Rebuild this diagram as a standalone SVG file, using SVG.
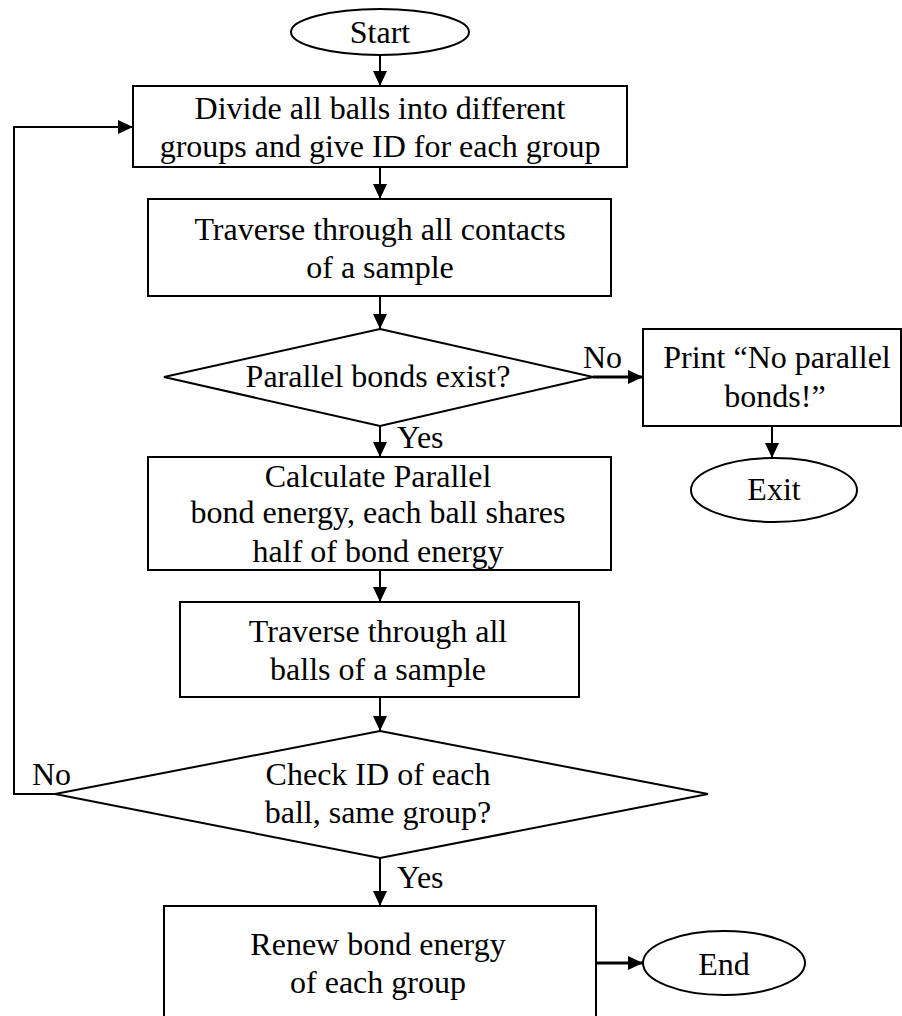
<svg xmlns="http://www.w3.org/2000/svg" width="902" height="1016" viewBox="0 0 902 1016">
  <style>
    .shape { fill: #ffffff; stroke: #000000; stroke-width: 2; }
    .label { font-family: "Liberation Serif", "Times New Roman", serif; font-size: 32px; fill: #000000; text-anchor: middle; }
    .tag { font-family: "Liberation Serif", "Times New Roman", serif; font-size: 32px; fill: #000000; }
    .link { fill: none; stroke: #000000; stroke-width: 2; }
    .link.bold { stroke-width: 3; }
  </style>
  <defs>
    <marker id="arrow" viewBox="0 0 15 14" markerWidth="15" markerHeight="14" refX="15" refY="7" orient="auto" markerUnits="userSpaceOnUse">
      <path d="M0,0 L15,7 L0,14 Z" fill="#000000"/>
    </marker>
  </defs>
  <rect width="902" height="1016" fill="#ffffff"/>

  <!-- connectors -->
  <g id="connectors">
    <line class="link" x1="380" y1="55" x2="380" y2="86" marker-end="url(#arrow)"/>
    <line class="link" x1="380" y1="167" x2="380" y2="199" marker-end="url(#arrow)"/>
    <line class="link" x1="380" y1="296" x2="380" y2="329" marker-end="url(#arrow)"/>
    <line class="link bold" x1="593" y1="377" x2="643" y2="377" marker-end="url(#arrow)"/>
    <line class="link" x1="772" y1="426" x2="772" y2="458" marker-end="url(#arrow)"/>
    <line class="link" x1="380" y1="426" x2="380" y2="457" marker-end="url(#arrow)"/>
    <line class="link" x1="380" y1="570" x2="380" y2="602" marker-end="url(#arrow)"/>
    <line class="link" x1="380" y1="697" x2="380" y2="731" marker-end="url(#arrow)"/>
    <polyline class="link" points="55,794 14,794 14,127 133,127" stroke-width="2.5" marker-end="url(#arrow)"/>
    <line class="link" x1="380" y1="858" x2="380" y2="906" marker-end="url(#arrow)"/>
    <line class="link bold" x1="596" y1="963" x2="643" y2="963" marker-end="url(#arrow)"/>
    <text class="tag" x="583" y="368">No</text>
    <text class="tag" x="397" y="448">Yes</text>
    <text class="tag" x="32" y="785">No</text>
    <text class="tag" x="397" y="888">Yes</text>
  </g>

  <g id="start">
    <ellipse class="shape" cx="380" cy="32" rx="89" ry="23"/>
    <text class="label" x="380" y="43">Start</text>
  </g>

  <g id="divide-groups">
    <rect class="shape" x="133" y="86" width="494" height="81"/>
    <text class="label" x="380" y="119">Divide all balls into different</text>
    <text class="label" x="380" y="157">groups and give ID for each group</text>
  </g>

  <g id="traverse-contacts">
    <rect class="shape" x="148" y="199" width="463" height="97"/>
    <text class="label" x="380" y="240">Traverse through all contacts</text>
    <text class="label" x="380" y="278">of a sample</text>
  </g>

  <g id="bonds-exist">
    <polygon class="shape" points="380,329 593,377 380,426 164,377"/>
    <text class="label" x="378" y="387">Parallel bonds exist?</text>
  </g>

  <g id="print-no-bonds">
    <rect class="shape" x="643" y="329" width="258" height="97"/>
    <text class="label" x="777" y="368">Print “No parallel</text>
    <text class="label" x="775" y="407">bonds!”</text>
  </g>

  <g id="exit">
    <ellipse class="shape" cx="774" cy="490" rx="83" ry="32"/>
    <text class="label" x="774" y="500">Exit</text>
  </g>

  <g id="calc-energy">
    <rect class="shape" x="148" y="457" width="463" height="113"/>
    <text class="label" x="378" y="487">Calculate Parallel</text>
    <text class="label" x="378" y="523">bond energy, each ball shares</text>
    <text class="label" x="378" y="562">half of bond energy</text>
  </g>

  <g id="traverse-balls">
    <rect class="shape" x="180" y="602" width="399" height="95"/>
    <text class="label" x="378" y="642">Traverse through all</text>
    <text class="label" x="378" y="680">balls of a sample</text>
  </g>

  <g id="same-group">
    <polygon class="shape" points="380,731 708,794 380,858 55,794"/>
    <text class="label" x="378" y="785">Check ID of each</text>
    <text class="label" x="378" y="823">ball, same group?</text>
  </g>

  <g id="renew-energy">
    <rect class="shape" x="164" y="906" width="432" height="130"/>
    <text class="label" x="378" y="955">Renew bond energy</text>
    <text class="label" x="378" y="993">of each group</text>
  </g>

  <g id="end">
    <ellipse class="shape" cx="724" cy="963" rx="81" ry="32"/>
    <text class="label" x="724" y="975">End</text>
  </g>
</svg>
